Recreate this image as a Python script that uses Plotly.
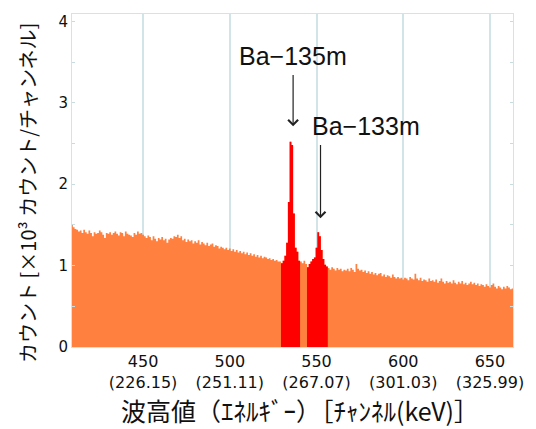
import plotly.graph_objects as go

# ---- data ----
first_channel = 409
counts = [
    1.50, 1.47, 1.45, 1.44, 1.42, 1.43, 1.40, 1.44, 1.41, 1.39,
    1.43, 1.40, 1.36, 1.41, 1.39, 1.40, 1.43, 1.41, 1.38, 1.34,
    1.40, 1.39, 1.41, 1.38, 1.40, 1.42, 1.39, 1.37, 1.41, 1.40,
    1.36, 1.42, 1.39, 1.38, 1.37, 1.35, 1.40, 1.38, 1.42, 1.39,
    1.40, 1.38, 1.36, 1.34, 1.37, 1.35, 1.31, 1.36, 1.33, 1.30,
    1.34, 1.32, 1.35, 1.31, 1.33, 1.28, 1.32, 1.34, 1.33, 1.36,
    1.35, 1.38, 1.34, 1.36, 1.31, 1.33, 1.29, 1.32, 1.30, 1.31,
    1.27, 1.30, 1.28, 1.31, 1.26, 1.29, 1.27, 1.25, 1.28, 1.24,
    1.26, 1.27, 1.23, 1.25, 1.24, 1.21, 1.23, 1.22, 1.20, 1.22,
    1.19, 1.21, 1.18, 1.20, 1.17, 1.19, 1.16, 1.18, 1.15, 1.17,
    1.14, 1.16, 1.13, 1.15, 1.12, 1.14, 1.11, 1.13, 1.10, 1.12,
    1.09, 1.11, 1.10, 1.08, 1.09, 1.07, 1.08, 1.06, 1.07, 1.05,
    1.05,
    # Ba-135m ROI (530-540)
    1.03, 1.06, 1.12, 1.28, 1.78, 2.52, 2.48, 1.64, 1.22, 1.17, 1.06,
    # gap (541-544)
    1.05, 1.03, 1.06, 1.02,
    # Ba-133m ROI (545-556)
    0.98, 1.02, 1.05, 1.08, 1.10, 1.22, 1.41, 1.36, 1.19, 1.08, 1.01, 0.99,
    # 557-663
    0.97, 0.95, 0.98, 0.96, 0.94, 0.97, 0.95, 0.96, 0.93, 0.95,
    0.94, 0.96, 0.93, 0.97, 0.95, 0.92, 1.02, 0.96, 0.94, 0.95,
    0.92, 0.94, 0.91, 0.93, 0.90, 0.92, 0.89, 0.91, 0.88, 0.90,
    0.91, 0.87, 0.89, 0.86, 0.88, 0.87, 0.85, 0.89, 0.86, 0.84,
    0.86, 0.84, 0.85, 0.83, 0.85, 0.84, 0.82, 0.86, 0.84, 0.83,
    0.90, 0.84, 0.82, 0.85, 0.81, 0.83, 0.82, 0.80, 0.84, 0.81,
    0.82, 0.80, 0.83, 0.79, 0.81, 0.84, 0.80, 0.78, 0.81, 0.79,
    0.80, 0.78, 0.82, 0.79, 0.77, 0.80, 0.78, 0.81, 0.77, 0.79,
    0.76, 0.78, 0.80, 0.77, 0.79, 0.76, 0.78, 0.75, 0.77, 0.76,
    0.74, 0.77, 0.75, 0.73, 0.76, 0.78, 0.74, 0.72, 0.75, 0.73,
    0.71, 0.74, 0.72, 0.75, 0.73, 0.71, 0.72,
]
channels = list(range(first_channel, first_channel + len(counts)))

roi_ranges = [(530, 540), (545, 556)]

tick_channels = [450, 500, 550, 600, 650]
tick_energies = ["226.15", "251.11", "267.07", "301.03", "325.99"]

peak_labels = ["Ba−135m", "Ba−133m"]
peak_channels = [536.5, 552.3]
label_pos = [(536.7, 3.57), (578.3, 2.72)]
arrow_from = [3.36, 2.50]
arrow_to = [2.71, 1.58]

ORANGE = "#FF803F"
RED = "#FF0000"
GRID = "#D3E4E8"


def step_xy(chs, vals):
    xs = [c - 0.5 for c in chs] + [chs[-1] + 0.5]
    ys = list(vals) + [vals[-1]]
    return xs, ys


fig = go.Figure()
xs, ys = step_xy(channels, counts)
fig.add_trace(go.Scatter(x=xs, y=ys, mode="lines", line=dict(width=0, shape="hv"),
                         fill="tozeroy", fillcolor=ORANGE, hoverinfo="skip",
                         showlegend=False))
for lo, hi in roi_ranges:
    sel_c = [c for c in channels if lo <= c <= hi]
    sel_v = [counts[c - first_channel] for c in sel_c]
    xs, ys = step_xy(sel_c, sel_v)
    fig.add_trace(go.Scatter(x=xs, y=ys, mode="lines", line=dict(width=0, shape="hv"),
                             fill="tozeroy", fillcolor=RED, hoverinfo="skip",
                             showlegend=False))

annotations = []
for name, pc, (lx, ly), a0, a1 in zip(peak_labels, peak_channels, label_pos, arrow_from, arrow_to):
    annotations.append(dict(x=lx, y=ly, xref="x", yref="y", text=name, showarrow=False,
                            font=dict(family="Liberation Sans, Arial", size=25, color="#111111")))
    annotations.append(dict(x=pc, y=a1, ax=pc, ay=a0, xref="x", yref="y", axref="x", ayref="y",
                            text="", showarrow=True, arrowhead=4, arrowsize=1.6,
                            arrowwidth=1.2, arrowcolor="#222222"))

annotations.append(dict(x=-0.10, y=0.4625, xref="paper", yref="paper",
                        text="カウント [×10³ カウント/チャンネル]", textangle=-90,
                        showarrow=False, xanchor="center", yanchor="middle",
                        font=dict(family="Noto Sans CJK JP", size=20, color="#111111")))
annotations.append(dict(x=0.517, y=-0.189, xref="paper", yref="paper",
                        text="波高値（ｴﾈﾙｷﾞｰ）［ﾁｬﾝﾈﾙ(keV)］",
                        showarrow=False, xanchor="center", yanchor="middle",
                        font=dict(family="Noto Sans CJK JP", size=25, color="#111111")))

# the page body adds an 8px margin, so the figure is 8px smaller and shifted
fig.update_layout(
    width=528, height=421,
    margin=dict(l=64, r=23, t=6, b=82),
    paper_bgcolor="white", plot_bgcolor="white",
    annotations=annotations,
    xaxis=dict(range=[409, 663.3], tickvals=tick_channels,
               ticktext=[f"{c}<br>({e})" for c, e in zip(tick_channels, tick_energies)],
               tickfont=dict(family="DejaVu Sans", size=16, color="#111111"),
               showgrid=True, gridcolor=GRID, gridwidth=1.5, zeroline=False,
               showline=True, linecolor=GRID, linewidth=1, mirror=True, ticks=""),
    yaxis=dict(range=[0, 4.09], tickvals=[0, 1, 2, 3, 4],
               tickfont=dict(family="DejaVu Sans", size=15, color="#111111"),
               showgrid=False, zeroline=False,
               showline=True, linecolor=GRID, linewidth=1, mirror="ticks",
               ticks="inside", ticklen=3, tickcolor="#C8DCE0",
               minor=dict(ticks="inside", ticklen=3, dtick=0.5, tickcolor="#C8DCE0")),
)

fig.write_html("out.html")
